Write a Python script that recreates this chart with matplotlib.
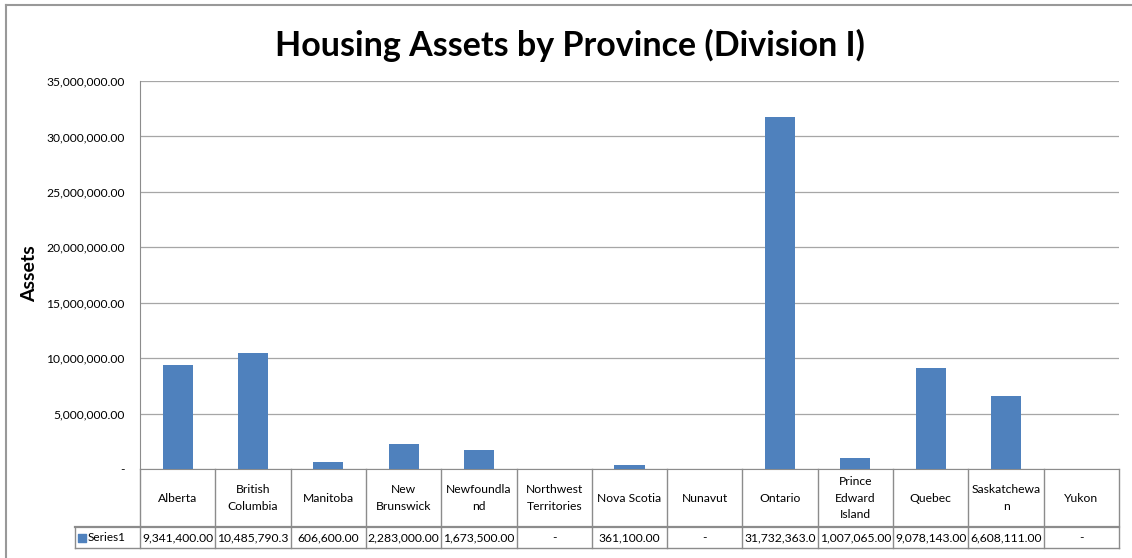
import matplotlib
matplotlib.use("Agg")
import matplotlib.pyplot as plt
from matplotlib.ticker import FuncFormatter, MultipleLocator

# Data
provinces = ["Alberta", "British\nColumbia", "Manitoba", "New\nBrunswick", "Newfoundla\nnd",
             "Northwest\nTerritories", "Nova Scotia", "Nunavut", "Ontario",
             "Prince\nEdward\nIsland", "Quebec", "Saskatchewa\nn", "Yukon"]
assets = [9341400.00, 10485790.3, 606600.00, 2283000.00, 1673500.00, 0,
          361100.00, 0, 31732363.0, 1007065.00, 9078143.00, 6608111.00, 0]
value_labels = ["9,341,400.00", "10,485,790.3", "606,600.00", "2,283,000.00", "1,673,500.00", "-",
                "361,100.00", "-", "31,732,363.0", "1,007,065.00", "9,078,143.00", "6,608,111.00", "-"]
series_name = "Series1"

W, H = 1132, 558
bar_color = "#4F81BD"
line_color = "#8C8C8C"
grid_color = "#A6A6A6"
plt.rcParams["font.family"] = ["Lato", "DejaVu Sans"]

fig = plt.figure(figsize=(W / 100, H / 100), dpi=100)

# outer chart border (left and top only visible)
fig.add_artist(plt.Line2D([5.5 / W, 5.5 / W], [0, 1 - 4.5 / H], color="#999999", lw=1.5))
fig.add_artist(plt.Line2D([5.5 / W, 1], [1 - 4.5 / H, 1 - 4.5 / H], color="#999999", lw=1.5))

left, right, top, base, bottom = 140, 1119, 81, 469, 548
ax = fig.add_axes([left / W, 1 - base / H, (right - left) / W, (base - top) / H])
n = len(provinces)
x = list(range(n))
ax.bar(x, assets, width=0.4, color=bar_color, zorder=3)
ax.set_xlim(-0.5, n - 0.5)
ax.set_ylim(0, 35000000)
ax.yaxis.set_major_locator(MultipleLocator(5000000))
ax.yaxis.set_major_formatter(FuncFormatter(lambda v, p: "-" if v == 0 else f"{v:,.2f}"))
ax.grid(axis="y", color=grid_color, lw=0.9, zorder=0)
ax.set_xticks([])
ax.tick_params(axis="y", length=0, pad=11, labelsize=8.7)
for s in ["top", "right"]:
    ax.spines[s].set_visible(False)
ax.spines["left"].set_color(line_color)
ax.spines["bottom"].set_color(line_color)
fig.text(30 / W, 1 - 274 / H, "Assets", rotation=90, ha="center", va="center",
         fontsize=14, fontweight="bold")

# data table under the axis
tab = fig.add_axes([left / W, 1 - bottom / H, (right - left) / W, (bottom - base) / H])
tab.set_xlim(-0.5, n - 0.5)
tab.set_ylim(bottom - base, 0)
tab.axis("off")
unit = (right - left) / n
row1 = 527 - base
row2 = bottom - base
for i in range(n + 1):
    tab.plot([i - 0.5, i - 0.5], [0, row2], color=line_color, lw=1, clip_on=False)
lab_left = -0.5 - (left - 75) / unit
tab.plot([lab_left, n - 0.5], [row1, row1], color=line_color, lw=1.6, clip_on=False)
tab.plot([lab_left, n - 0.5], [row2, row2], color=line_color, lw=1, clip_on=False)
tab.plot([lab_left, lab_left], [row1, row2], color=line_color, lw=1, clip_on=False)
for i, name in enumerate(provinces):
    tab.text(i, row1 / 2, name, ha="center", va="center", fontsize=8.7, linespacing=1.6)
    tab.text(i, (row1 + row2) / 2, value_labels[i], ha="center", va="center", fontsize=8.7)
tab.scatter([lab_left + 7 / unit], [(row1 + row2) / 2], marker="s", s=40, color=bar_color, clip_on=False)
tab.text(lab_left + 13 / unit, (row1 + row2) / 2, series_name, ha="left", va="center", fontsize=8.5)

fig.text(570 / W, 1 - 45 / H, "Housing Assets by Province (Division I)", ha="center", va="center",
         fontsize=24.5, fontweight="bold")

fig.savefig("out.png", dpi=100)
